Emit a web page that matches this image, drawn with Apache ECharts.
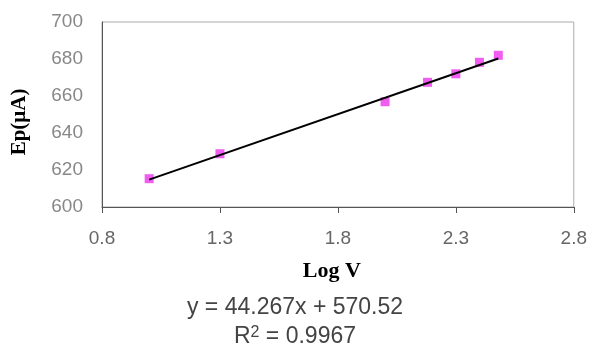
<!DOCTYPE html>
<html>
<head>
<meta charset="utf-8">
<script src="https://cdn.jsdelivr.net/npm/echarts@6/dist/echarts.min.js"></script>
<style>
  html, body { margin: 0; padding: 0; background: #fff; }
  #chart { width: 590px; height: 351px; }
</style>
</head>
<body>
<div id="chart"></div>
<script>
// measured points (log of scan rate vs peak potential)
var logV = [1.0, 1.3, 2.0, 2.18, 2.3, 2.4, 2.48];
var ep = [615.3, 628.8, 656.9, 667.4, 672.0, 678.2, 682.0];
// fitted line as drawn in the picture (start / end)
var trendLine = [[1.0, 614.8], [2.48, 680.3]];
var xTicks = [0.8, 1.3, 1.8, 2.3, 2.8];
var yTicks = [600, 620, 640, 660, 680, 700];
var equationText = 'y = 44.267x + 570.52';
var r2Text = '0.9967';

var dom = document.getElementById('chart');
var myChart = echarts.init(dom);

var points = logV.map(function (x, i) { return [x, ep[i]]; });

var option = {
  backgroundColor: '#fff',
  animation: false,
  grid: {
    left: 102,
    right: 15,
    top: 22,
    bottom: 144,
    show: true,
    borderColor: '#aaa',
    borderWidth: 1
  },
  xAxis: {
    type: 'value',
    min: xTicks[0],
    max: xTicks[xTicks.length - 1],
    interval: 0.5,
    name: 'Log V',
    nameLocation: 'middle',
    nameGap: 53,
    nameTextStyle: {
      fontFamily: 'Liberation Serif',
      fontWeight: 'bold',
      fontSize: 22,
      color: '#000',
      padding: [0, 12, 0, 0]
    },
    axisLine: { show: true, lineStyle: { color: '#555', width: 1 } },
    axisTick: { show: true, length: 6, lineStyle: { color: '#555' } },
    splitLine: { show: false },
    axisLabel: {
      fontFamily: 'Liberation Sans',
      fontSize: 19,
      color: '#666',
      margin: 22,
      formatter: function (v) { return v.toFixed(1); }
    }
  },
  yAxis: {
    type: 'value',
    min: yTicks[0],
    max: yTicks[yTicks.length - 1],
    interval: 20,
    name: 'Ep(μA)',
    nameLocation: 'middle',
    nameGap: 72,
    nameRotate: 90,
    nameTextStyle: {
      fontFamily: 'Liberation Serif',
      fontWeight: 'bold',
      fontSize: 21,
      color: '#000',
      padding: [0, 15, 0, 0]
    },
    axisLine: { show: true, lineStyle: { color: '#555', width: 1 } },
    axisTick: { show: false },
    splitLine: { show: false },
    axisLabel: {
      fontFamily: 'Liberation Sans',
      fontSize: 19,
      color: '#888',
      margin: 19
    }
  },
  series: [
    {
      name: 'trend',
      type: 'line',
      data: trendLine,
      symbol: 'none',
      lineStyle: { color: '#000', width: 2 },
      z: 3
    },
    {
      name: 'Ep',
      type: 'scatter',
      data: points,
      symbol: 'rect',
      symbolSize: 9,
      itemStyle: { color: '#ee33ee' },
      z: 2
    }
  ],
  graphic: [
    {
      type: 'text',
      left: 'center',
      top: 296,
      style: {
        text: equationText,
        font: '23px "Liberation Sans"',
        fill: '#444'
      }
    },
    {
      type: 'text',
      left: 'center',
      top: 325,
      style: {
        text: '{r|R}{s|2}{r| = ' + r2Text + '}',
        fill: '#444',
        rich: {
          r: { fontFamily: 'Liberation Sans', fontSize: 23, color: '#444' },
          s: { fontFamily: 'Liberation Sans', fontSize: 16, color: '#444', verticalAlign: 'top', padding: [0, 0, 8, 0] }
        }
      }
    }
  ]
};

if (option && typeof option === 'object') {
  myChart.setOption(option);
}
</script>
</body>
</html>
